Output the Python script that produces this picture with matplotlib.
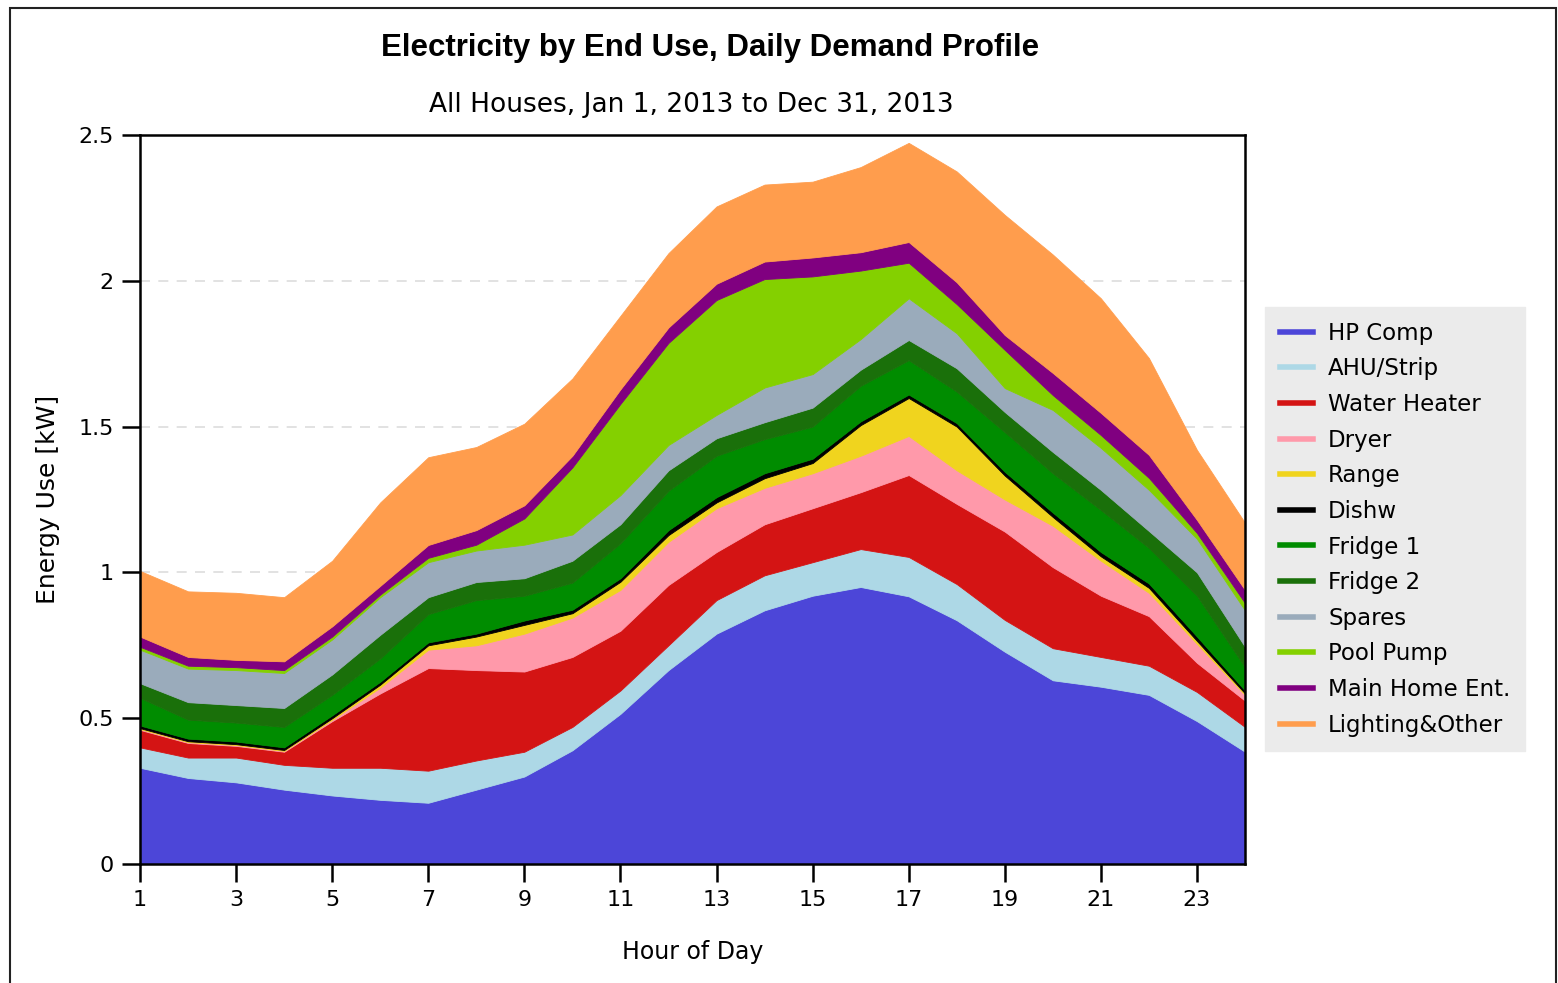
import matplotlib
matplotlib.use("Agg")
import matplotlib.pyplot as plt
from matplotlib.lines import Line2D
from matplotlib.patches import Rectangle

# hour of day
hours = list(range(1, 25))

# kW per end use (stacked bottom -> top)
hp_comp = [0.33, 0.295, 0.28, 0.255, 0.235, 0.22, 0.21, 0.255, 0.30, 0.39, 0.515, 0.665,
           0.79, 0.87, 0.92, 0.95, 0.918, 0.836, 0.728, 0.63, 0.608, 0.58, 0.49, 0.385]
ahu_strip = [0.07, 0.07, 0.085, 0.085, 0.095, 0.11, 0.11, 0.10, 0.085, 0.08, 0.08, 0.085,
             0.115, 0.12, 0.115, 0.13, 0.135, 0.124, 0.109, 0.11, 0.102, 0.10, 0.10, 0.085]
water_heater = [0.06, 0.05, 0.04, 0.045, 0.16, 0.255, 0.352, 0.31, 0.275, 0.24, 0.205, 0.207,
                0.165, 0.175, 0.185, 0.195, 0.281, 0.275, 0.303, 0.278, 0.21, 0.17, 0.10, 0.09]
dryer = [0.003, 0.003, 0.003, 0.003, 0.005, 0.02, 0.063, 0.085, 0.13, 0.135, 0.14, 0.148,
         0.15, 0.125, 0.12, 0.125, 0.134, 0.115, 0.11, 0.142, 0.12, 0.08, 0.065, 0.02]
range_ = [0.003, 0.003, 0.003, 0.003, 0.005, 0.01, 0.015, 0.03, 0.03, 0.015, 0.028, 0.023,
          0.02, 0.033, 0.035, 0.105, 0.13, 0.15, 0.082, 0.03, 0.015, 0.017, 0.01, 0.005]
dishw = [0.009, 0.009, 0.009, 0.009, 0.01, 0.01, 0.01, 0.01, 0.015, 0.012, 0.012, 0.017,
         0.018, 0.017, 0.015, 0.013, 0.012, 0.012, 0.013, 0.015, 0.015, 0.015, 0.015, 0.01]
fridge1 = [0.095, 0.065, 0.065, 0.07, 0.07, 0.08, 0.097, 0.115, 0.085, 0.093, 0.12, 0.135,
           0.142, 0.117, 0.11, 0.122, 0.118, 0.108, 0.136, 0.135, 0.144, 0.122, 0.14, 0.08]
fridge2 = [0.05, 0.06, 0.06, 0.065, 0.07, 0.081, 0.058, 0.062, 0.06, 0.075, 0.065, 0.07,
           0.06, 0.058, 0.065, 0.055, 0.069, 0.08, 0.069, 0.073, 0.069, 0.058, 0.08, 0.07]
spares = [0.115, 0.115, 0.12, 0.12, 0.12, 0.129, 0.12, 0.108, 0.115, 0.09, 0.10, 0.087,
          0.08, 0.119, 0.115, 0.105, 0.143, 0.12, 0.082, 0.144, 0.144, 0.141, 0.115, 0.125]
pool_pump = [0.01, 0.01, 0.01, 0.01, 0.01, 0.009, 0.015, 0.02, 0.09, 0.23, 0.313, 0.35,
             0.394, 0.372, 0.335, 0.235, 0.122, 0.10, 0.131, 0.051, 0.044, 0.041, 0.02, 0.025]
main_home_ent = [0.035, 0.03, 0.025, 0.03, 0.035, 0.03, 0.044, 0.05, 0.045, 0.04, 0.05, 0.053,
                 0.056, 0.06, 0.065, 0.063, 0.071, 0.075, 0.051, 0.076, 0.076, 0.079, 0.045, 0.045]
lighting_other = [0.225, 0.225, 0.23, 0.22, 0.225, 0.286, 0.301, 0.285, 0.28, 0.265, 0.252, 0.255,
                  0.265, 0.264, 0.26, 0.292, 0.34, 0.38, 0.412, 0.406, 0.393, 0.332, 0.24, 0.23]

labels = ['HP Comp', 'AHU/Strip', 'Water Heater', 'Dryer', 'Range', 'Dishw', 'Fridge 1',
          'Fridge 2', 'Spares', 'Pool Pump', 'Main Home Ent.', 'Lighting&Other']
colors = ['#4c46d8', '#add8e6', '#d41414', '#ff99aa', '#f0d41e', '#000000', '#008c00',
          '#1a700a', '#9aabbb', '#84d000', '#800080', '#ff9d4d']
series = [hp_comp, ahu_strip, water_heater, dryer, range_, dishw, fridge1, fridge2,
          spares, pool_pump, main_home_ent, lighting_other]

fig = plt.figure(figsize=(15.58, 9.83), dpi=100)
ax = fig.add_axes([140/1558, 1-864/983, (1245-140)/1558, (864-135)/983])

polys = ax.stackplot(hours, *series, colors=colors, labels=labels, zorder=2)
for p in polys:
    p.set_edgecolor('face')
    p.set_linewidth(0.6)

ax.set_xlim(1, 24)
ax.set_ylim(0, 2.5)
ax.set_xticks(range(1, 24, 2))
ax.set_yticks([0, 0.5, 1, 1.5, 2, 2.5])
ax.set_yticklabels(['0', '0.5', '1', '1.5', '2', '2.5'])
ax.tick_params(axis='both', direction='out', length=13, width=1.8, labelsize=16, pad=6)
for s in ax.spines.values():
    s.set_linewidth(1.8)
ax.yaxis.grid(True, linestyle=(0, (6, 5)), color='#dddddd', linewidth=1.2, zorder=1)
ax.set_axisbelow(True)

ax.set_xlabel('Hour of Day', fontsize=17, labelpad=21)
ax.set_ylabel('Energy Use [kW]', fontsize=18, labelpad=13)

fig.text(710/1558, 1-48/983, 'Electricity by End Use, Daily Demand Profile',
         ha='center', va='center', fontsize=22.5, fontweight='bold', family='Liberation Sans')
fig.text(691/1558, 1-105/983, 'All Houses, Jan 1, 2013 to Dec 31, 2013',
         ha='center', va='center', fontsize=19)

handles = [Line2D([0], [0], color=c, linewidth=4) for c in colors]
leg = fig.legend(handles, labels, loc='upper left', bbox_to_anchor=(1265/1558, 1-307/983),
                 frameon=True, fancybox=False, facecolor='#ebebeb', edgecolor='#ebebeb',
                 fontsize=16.5, handlelength=1.45, labelspacing=0.55, borderpad=0.65,
                 handletextpad=0.65, borderaxespad=0)
leg.get_frame().set_alpha(1)

# outer border
fig.patches.append(Rectangle((10/1558, -0.01), (1556-10)/1558, 1-8/983 + 0.01,
                             transform=fig.transFigure, fill=False, edgecolor='#222222',
                             linewidth=1.5))

fig.savefig('out.png', dpi=100)
